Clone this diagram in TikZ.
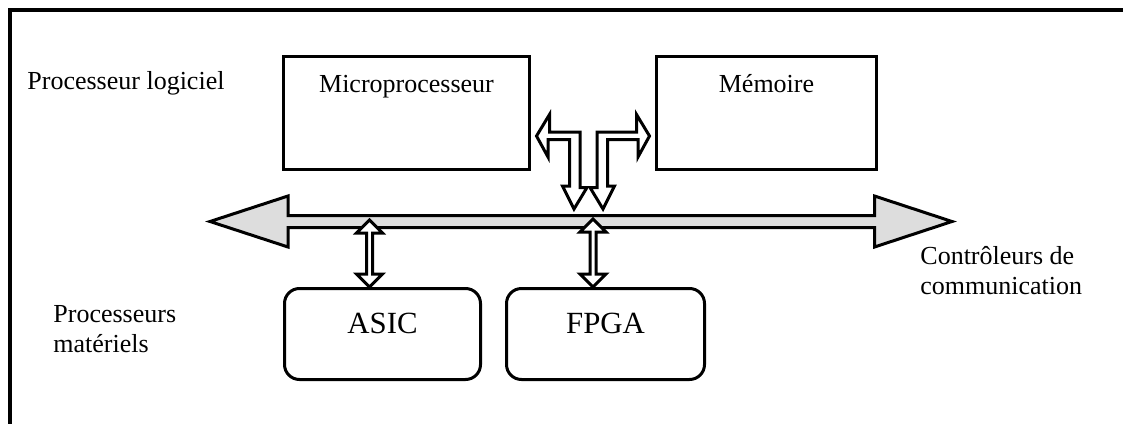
\documentclass[tikz,border=0pt]{standalone}
\usepackage{fontspec}
\setmainfont{Liberation Serif}
\usepackage{xcolor}
\usepackage{tikz}
\usetikzlibrary{positioning,calc}

\definecolor{busgray}{RGB}{221,221,221}

\begin{document}
\begin{tikzpicture}[
  x=0.5pt, y=-0.5pt,
  unit/.style={draw, line width=1.5pt, inner sep=0pt, text height=17.75pt, text depth=38.75pt, minimum height=56.5pt, font=\fontsize{13}{15}\selectfont},
  hw/.style={draw, line width=1.5pt, rounded corners=7.5pt, inner sep=0pt, text height=22.25pt, text depth=23.25pt, font=\fontsize{15.4}{18}\selectfont},
  lbl/.style={inner sep=0pt, align=left, font=\fontsize{13}{15}\selectfont},
  bus/.style={draw, fill=busgray, line width=1.5pt, line join=miter},
  hollow/.style={draw, fill=white, line width=1.5pt, line join=miter},
]
\useasboundingbox (0,0) rectangle (1123,423);
\draw[line width=2pt] (10,430) -- (10,10) -- (1130,10);

\node[unit, minimum width=123pt] (micro) at (406.5,113) {Microprocesseur};
\node[unit, minimum width=110pt] (mem) at (766.5,113) {Mémoire};
\node[hw, minimum width=98pt] (asic) at (382.5,334) {ASIC};
\node[hw, minimum width=99pt] (fpga) at (605.5,334) {FPGA};

\node[lbl, anchor=base west] (soft) at (27,89) {Processeur logiciel};
\node[lbl, anchor=base west] (hard) at (53,352) {Processeurs\\matériels};
\node[lbl, anchor=base west] (comm) at (920,294) {Contrôleurs de\\communication};

% bus
\coordinate (busL) at (210,221.5);
\coordinate (busR) at (952,221.5);
\draw[bus] (busL) -- ++(78,-25.5) -- ++(0,19.5) -- ($(busR)+(-77.5,-6)$) -- ++(0,-19.5)
  -- (busR) -- ++(-77.5,25.5) -- ++(0,-19.5) -- ($(busL)+(78,6)$) -- ++(0,19.5) -- cycle;

% bus <-> ASIC / FPGA
\coordinate (asicTop) at (369.5,220);
\coordinate (asicBot) at (asic.north -| asicTop);
\draw[hollow] (asicTop) -- ++(13,13) -- ++(-10,0) -- ($(asicBot)+(3,-13)$) -- ++(10,0)
  -- (asicBot) -- ++(-13,-13) -- ++(10,0) -- ($(asicTop)+(-3,13)$) -- ++(-10,0) -- cycle;
\coordinate (fpgaTop) at (593,219);
\coordinate (fpgaBot) at (fpga.north -| fpgaTop);
\draw[hollow] (fpgaTop) -- ++(13,13) -- ++(-10,0) -- ($(fpgaBot)+(3,-13)$) -- ++(10,0)
  -- (fpgaBot) -- ++(-13,-13) -- ++(10,0) -- ($(fpgaTop)+(-3,13)$) -- ++(-10,0) -- cycle;

% microprocesseur / memoire <-> bus
\coordinate (mpIn) at ($(micro.south east)+(5.5,-35)$);
\coordinate (mpBus) at (574,209);
\draw[hollow] (mpIn) -- ++(13,-21.5) -- ++(0,17.5) -- ++(30.5,0) -- ++(0,55.5) -- ++(7,0)
  -- (mpBus) -- ++(-11.5,-23) -- ++(7,0) -- ++(0,-46.5) -- ++(-21.5,0) -- ++(0,17.5) -- cycle;
\coordinate (memIn) at ($(mem.south west)+(-5.5,-35)$);
\coordinate (memBus) at (603,209);
\draw[hollow] (memIn) -- ++(-13,-21.5) -- ++(0,17.5) -- ++(-39.5,0) -- ++(0,55.5) -- ++(-7,0)
  -- (memBus) -- ++(11.5,-23) -- ++(-7,0) -- ++(0,-46.5) -- ++(30.5,0) -- ++(0,17.5) -- cycle;
\end{tikzpicture}
\end{document}
